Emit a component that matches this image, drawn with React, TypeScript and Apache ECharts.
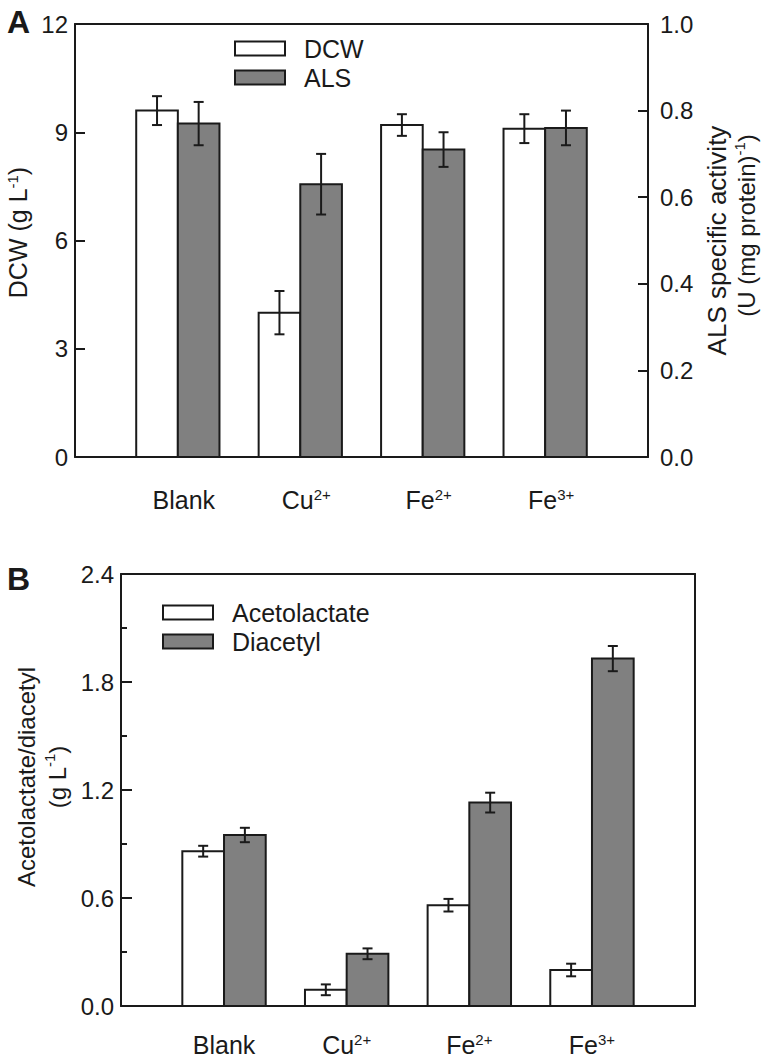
import React, { useEffect, useRef } from "react";
import * as echarts from "echarts";

// ---- data ----
const categoryNames = ["Blank", "Cu", "Fe", "Fe"];
const categoryCharges = ["", "2+", "2+", "3+"];

const dcw = [9.6, 4.0, 9.2, 9.1];
const dcwErr = [0.4, 0.6, 0.3, 0.4];
const als = [0.77, 0.63, 0.71, 0.76];
const alsErr = [0.05, 0.07, 0.04, 0.04];

const acetolactate = [0.86, 0.09, 0.56, 0.2];
const acetolactateErr = [0.03, 0.03, 0.035, 0.035];
const diacetyl = [0.95, 0.29, 1.13, 1.93];
const diacetylErr = [0.04, 0.03, 0.055, 0.07];

const dcwTicks = { min: 0, max: 12, interval: 3 };
const alsTicks = { min: 0, max: 1, interval: 0.2 };
const bTicks = { min: 0, max: 2.4, interval: 0.6 };

// ---- style ----
const INK = "#1a1a1a";
const GRAY = "#808080";
const FONT = "'Liberation Sans', Arial, Helvetica, sans-serif";
const BAR_FRAC = 0.34;
const X_MIN = -0.84;
const X_MAX = 3.84;

const triples = (v: number[], e: number[]) => v.map((y, i) => [i, y, e[i]]);

function makeRender(side: number, fill: string) {
  return (params: any, api: any) => {
    const i = api.value(0);
    const v = api.value(1);
    const e = api.value(2);
    const unit = api.size([1, 0])[0];
    const bw = BAR_FRAC * unit;
    const p0 = api.coord([i, 0]);
    const p1 = api.coord([i, v]);
    const cx = p0[0] + (side * bw) / 2;
    const yHi = api.coord([i, v + e])[1];
    const yLo = api.coord([i, v - e])[1];
    const cap = 5;
    const ls = { stroke: INK, lineWidth: 2 };
    return {
      type: "group",
      children: [
        {
          type: "rect",
          shape: { x: cx - bw / 2, y: p1[1], width: bw, height: p0[1] - p1[1] },
          style: { fill, stroke: INK, lineWidth: 2 },
        },
        { type: "line", shape: { x1: cx, y1: yHi, x2: cx, y2: yLo }, style: ls },
        { type: "line", shape: { x1: cx - cap, y1: yHi, x2: cx + cap, y2: yHi }, style: ls },
        { type: "line", shape: { x1: cx - cap, y1: yLo, x2: cx + cap, y2: yLo }, style: ls },
      ],
    };
  };
}

const catRich = {
  n: { fontSize: 25, color: INK, fontFamily: FONT, lineHeight: 26 },
  s: { fontSize: 15, color: INK, fontFamily: FONT, verticalAlign: "top", lineHeight: 14 },
};

const catFormatter = (value: number) => {
  const i = Math.round(value);
  const c = categoryCharges[i];
  return c ? `{n|${categoryNames[i]}}{s|${c}}` : `{n|${categoryNames[i]}}`;
};

const lineStyle = { color: INK, width: 2 };

function frameX(gridIndex: number, position: "top" | "bottom", labels: boolean, padLeft: number) {
  return {
    gridIndex,
    type: "value",
    position,
    min: X_MIN,
    max: X_MAX,
    axisLine: { show: true, onZero: false, lineStyle },
    axisTick: { show: false },
    splitLine: { show: false },
    axisLabel: labels
      ? {
          show: true,
          customValues: [0, 1, 2, 3],
          formatter: catFormatter,
          rich: catRich,
          margin: 30,
          padding: [0, 0, 0, padLeft],
        }
      : { show: false },
  };
}

export default function App() {
  const ref = useRef<HTMLDivElement>(null);

  useEffect(() => {
    if (!ref.current) return;
    const chart = echarts.init(ref.current, null, { renderer: "svg" });
    const tickLabel = (d: number) => ({
      color: INK,
      fontSize: 24,
      fontFamily: FONT,
      margin: 7,
      formatter: (v: number) => v.toFixed(d),
    });
    const legendText = { color: INK, fontSize: 25, fontFamily: FONT, padding: [0, 0, 0, 14] };

    const option: any = {
      animation: false,
      backgroundColor: "#ffffff",
      textStyle: { fontFamily: FONT },
      title: [
        { text: "A", left: 7, top: 6, padding: 0, textStyle: { fontSize: 32, fontWeight: "bold", color: INK, fontFamily: FONT } },
        { text: "B", left: 7, top: 563, padding: 0, textStyle: { fontSize: 32, fontWeight: "bold", color: INK, fontFamily: FONT } },
      ],
      legend: [
        {
          orient: "vertical",
          left: 234,
          top: 36,
          padding: 0,
          itemWidth: 50,
          itemHeight: 14,
          itemGap: 4,
          selectedMode: false,
          textStyle: legendText,
          data: [
            { name: "DCW", icon: "rect", itemStyle: { color: "#ffffff", borderColor: INK, borderWidth: 2 } },
            { name: "ALS", icon: "rect", itemStyle: { color: GRAY, borderColor: INK, borderWidth: 2 } },
          ],
        },
        {
          orient: "vertical",
          left: 162,
          top: 600,
          padding: 0,
          itemWidth: 50,
          itemHeight: 14,
          itemGap: 4,
          selectedMode: false,
          textStyle: legendText,
          data: [
            { name: "Acetolactate", icon: "rect", itemStyle: { color: "#ffffff", borderColor: INK, borderWidth: 2 } },
            { name: "Diacetyl", icon: "rect", itemStyle: { color: GRAY, borderColor: INK, borderWidth: 2 } },
          ],
        },
      ],
      grid: [
        { left: 75, top: 24, width: 573, height: 433, outerBoundsMode: "none" },
        { left: 121, top: 574, width: 574, height: 432, outerBoundsMode: "none" },
      ],
      xAxis: [
        frameX(0, "bottom", true, 12),
        frameX(0, "top", false, 0),
        { ...frameX(1, "bottom", true, 0), axisLabel: { ...(frameX(1, "bottom", true, 0) as any).axisLabel, margin: 26 } },
        frameX(1, "top", false, 0),
      ],
      yAxis: [
        {
          gridIndex: 0,
          type: "value",
          position: "left",
          ...dcwTicks,
          axisLine: { show: true, onZero: false, lineStyle },
          axisTick: { show: true, inside: true, length: 10, lineStyle },
          axisLabel: tickLabel(0),
          splitLine: { show: false },
          name: "{a|DCW (g L}{s|-1}{a|)}",
          nameLocation: "middle",
          nameGap: 42,
          nameTextStyle: {
            padding: [0, 0, 0, 16],
            rich: {
              a: { fontSize: 25, color: INK, fontFamily: FONT, lineHeight: 26 },
              s: { fontSize: 15, color: INK, fontFamily: FONT, verticalAlign: "top", lineHeight: 15 },
            },
          },
        },
        {
          gridIndex: 0,
          type: "value",
          position: "right",
          ...alsTicks,
          axisLine: { show: true, onZero: false, lineStyle },
          axisTick: { show: true, inside: true, length: 10, lineStyle },
          axisLabel: { ...tickLabel(1), margin: 12 },
          splitLine: { show: false },
          name: "{a|ALS specific activity}\n{b2|(U (mg protein)}{s|-1}{b|)}",
          nameLocation: "middle",
          nameGap: 53,
          nameTextStyle: {
            rich: {
              a: { fontSize: 26, color: INK, fontFamily: FONT, lineHeight: 29 },
              b: { fontSize: 24, color: INK, fontFamily: FONT, lineHeight: 29 },
              b2: { fontSize: 24, color: INK, fontFamily: FONT, lineHeight: 29, padding: [0, 0, 0, 30] },
              s: { fontSize: 15, color: INK, fontFamily: FONT, verticalAlign: "top", lineHeight: 22 },
            },
          },
        },
        {
          gridIndex: 1,
          type: "value",
          position: "left",
          ...bTicks,
          axisLine: { show: true, onZero: false, lineStyle },
          axisTick: { show: true, inside: true, length: 11, lineStyle },
          minorTick: { show: true, splitNumber: 2, length: 6, lineStyle },
          axisLabel: tickLabel(1),
          splitLine: { show: false },
          minorSplitLine: { show: false },
          name: "{a|Acetolactate/diacetyl}\n{a|(g L}{s|-1}{a|)}",
          nameLocation: "middle",
          nameGap: 38,
          nameTextStyle: {
            padding: [0, 0, 0, 26],
            rich: {
              a: { fontSize: 24, color: INK, fontFamily: FONT, lineHeight: 31 },
              s: { fontSize: 15, color: INK, fontFamily: FONT, verticalAlign: "top", lineHeight: 22 },
            },
          },
        },
        {
          gridIndex: 1,
          type: "value",
          position: "right",
          ...bTicks,
          axisLine: { show: true, onZero: false, lineStyle },
          axisTick: { show: false },
          axisLabel: { show: false },
          splitLine: { show: false },
        },
      ],
      series: [
        {
          name: "DCW",
          type: "custom",
          xAxisIndex: 0,
          yAxisIndex: 0,
          itemStyle: { color: "#ffffff", borderColor: INK },
          renderItem: makeRender(-1, "#ffffff"),
          data: triples(dcw, dcwErr),
        },
        {
          name: "ALS",
          type: "custom",
          xAxisIndex: 0,
          yAxisIndex: 1,
          itemStyle: { color: GRAY, borderColor: INK },
          renderItem: makeRender(1, GRAY),
          data: triples(als, alsErr),
        },
        {
          name: "Acetolactate",
          type: "custom",
          xAxisIndex: 2,
          yAxisIndex: 2,
          itemStyle: { color: "#ffffff", borderColor: INK },
          renderItem: makeRender(-1, "#ffffff"),
          data: triples(acetolactate, acetolactateErr),
        },
        {
          name: "Diacetyl",
          type: "custom",
          xAxisIndex: 2,
          yAxisIndex: 2,
          itemStyle: { color: GRAY, borderColor: INK },
          renderItem: makeRender(1, GRAY),
          data: triples(diacetyl, diacetylErr),
        },
      ],
    };
    chart.setOption(option);
    return () => chart.dispose();
  }, []);

  return (
    <div
      ref={ref}
      style={{ position: "absolute", left: 0, top: 0, width: 763, height: 1061, background: "#fff" }}
    />
  );
}
